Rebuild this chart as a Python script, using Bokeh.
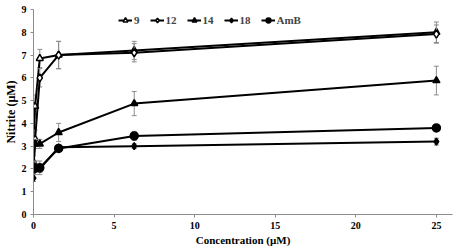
from bokeh.plotting import figure
from bokeh.models import ColumnDataSource, Legend, LegendItem, FixedTicker, Range1d
from bokeh.embed import file_html
from bokeh.resources import INLINE

conc = [0, 0.1, 0.39, 1.56, 6.25, 25]
s9 = [3.3, 4.75, 6.85, 7.0, 7.2, 8.0]
s12 = [2.3, 3.3, 6.0, 7.0, 7.1, 7.92]
s14 = [2.1, 3.1, 3.1, 3.6, 4.87, 5.88]
s18 = [1.6, 2.0, 2.0, 2.95, 3.0, 3.2]
amb = [2.0, 2.05, 2.05, 2.9, 3.45, 3.8]
e9 = [0.3, 0.5, 0.4, 0.6, 0.4, 0.45]
e12 = [0.3, 0.4, 0.4, 0.6, 0.4, 0.4]
e14 = [0.2, 0.2, 0.2, 0.4, 0.53, 0.63]
e18 = [0.15, 0.15, 0.15, 0.1, 0.1, 0.15]
eamb = [0.2, 0.3, 0.3, 0.1, 0.2, 0.05]
names = ["9", "12", "14", "18", "AmB"]
series = [s9, s12, s14, s18, amb]
errors = [e9, e12, e14, e18, eamb]
markers = ["triangle", "diamond", "triangle", "diamond", "circle"]
fills = ["white", "white", "black", "black", "black"]
sizes = [7, 8, 7, 7, 8]
y_ticks = [0, 1, 2, 3, 4, 5, 6, 7, 8, 9]
x_ticks = [0, 5, 10, 15, 20, 25]

FONT = "Liberation Serif"

p = figure(width=454, height=248, output_backend="svg", toolbar_location=None,
           x_range=Range1d(0, 26), y_range=Range1d(0, 9),
           min_border_left=31, min_border_right=2, min_border_top=9, min_border_bottom=34)
p.outline_line_color = None
p.grid.visible = False
p.background_fill_color = "white"

for ax in (p.xaxis[0], p.yaxis[0]):
    ax.axis_line_color = "#8c8c8c"
    ax.major_tick_line_color = "#8c8c8c"
    ax.minor_tick_line_color = None
    ax.major_tick_in = 0
    ax.major_tick_out = 3
    ax.major_label_text_font = FONT
    ax.major_label_text_font_style = "bold"
    ax.major_label_text_font_size = "10px"
    ax.major_label_text_color = "black"
    ax.axis_label_text_font = FONT
    ax.axis_label_text_font_style = "bold"
    ax.axis_label_text_font_size = "11px"
    ax.axis_label_text_color = "black"
    ax.major_label_standoff = 4
    ax.axis_label_standoff = 2
p.yaxis.axis_label_text_font_size = "12px"
p.yaxis.axis_label_standoff = 1

p.xaxis.ticker = FixedTicker(ticks=x_ticks)
p.yaxis.ticker = FixedTicker(ticks=y_ticks)
p.xaxis.axis_label = "Concentration (µM)"
p.yaxis.axis_label = "Nitrite (µM)"

items = []
for name, ys, es, mk, fc, sz in zip(names, series, errors, markers, fills, sizes):
    lo = [y - e for y, e in zip(ys, es)]
    hi = [y + e for y, e in zip(ys, es)]
    src = ColumnDataSource(dict(x=conc, y=ys, lo=lo, hi=hi))
    p.segment(x0="x", y0="lo", x1="x", y1="hi", source=src, line_color="#8c8c8c", line_width=1)
    p.scatter(x="x", y="lo", source=src, marker="dash", size=5, line_color="#8c8c8c", line_width=1)
    p.scatter(x="x", y="hi", source=src, marker="dash", size=5, line_color="#8c8c8c", line_width=1)
    ln = p.line(x="x", y="y", source=src, line_color="black", line_width=2)
    sc = p.scatter(x="x", y="y", source=src, marker=mk, size=sz, fill_color=fc,
                   line_color="black", line_width=1.5)
    items.append(LegendItem(label=name, renderers=[ln, sc]))

legend = Legend(items=items, orientation="horizontal", location=(85, 188),
                glyph_width=14, glyph_height=12, label_standoff=2, spacing=10,
                padding=2, margin=0, border_line_color=None, background_fill_alpha=0,
                label_text_font=FONT, label_text_font_style="bold",
                label_text_font_size="11px", label_height=12, label_width=4)
p.add_layout(legend, "center")

open("out.html", "w").write(file_html(p, INLINE))
